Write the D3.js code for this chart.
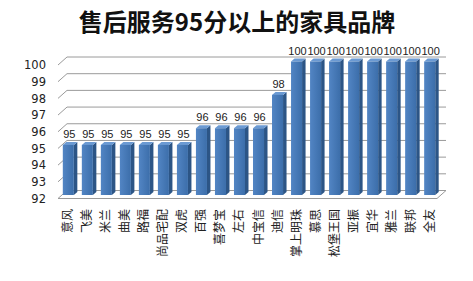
<!doctype html>
<html lang="zh">
<head>
<meta charset="UTF-8">
<title>售后服务95分以上的家具品牌</title>
<script src="https://d3js.org/d3.v7.min.js"></script>
<style>
  body { margin: 0; background: #fff; }
  svg { display: block; }
</style>
</head>
<body>
<div id="chart"></div>
<script>
var brands = ['意风', '飞美', '米兰', '曲美', '路福', '尚品宅配', '双虎', '百强', '喜梦宝', '左右',
    '中宝信', '迪信', '掌上明珠', '慕思', '松堡王国', '亚振', '宜华', '雅兰', '联邦', '全友'];
var scores = [95, 95, 95, 95, 95, 95, 95, 96, 96, 96, 96, 98, 100, 100, 100, 100, 100, 100, 100, 100];
var yTicks = [92, 93, 94, 95, 96, 97, 98, 99, 100];

var width = 473, height = 281;
var planeLeft = 62, planeRight = 441;
var back = [5, -4.5], front = [-4, 3.5];   // depth offsets from the bar plane
var dx = 3.5, dy = -3;                       // bar depth

var svg = d3.select('#chart').append('svg')
    .attr('width', width)
    .attr('height', height);

var defs = svg.append('defs');
var grad = defs.append('linearGradient').attr('id', 'barFront')
    .attr('x1', '0').attr('x2', '1').attr('y1', '0').attr('y2', '0');
grad.append('stop').attr('offset', '0%').attr('stop-color', '#5285c4');
grad.append('stop').attr('offset', '100%').attr('stop-color', '#3c6eaa');

svg.append('text')
    .attr('x', 237)
    .attr('y', 31)
    .attr('text-anchor', 'middle')
    .attr('font-family', '"Noto Sans CJK SC", sans-serif')
    .attr('font-weight', 'bold')
    .attr('font-size', '24px')
    .attr('fill', '#111')
    .text('售后服务95分以上的家具品牌');

var x = d3.scaleBand()
    .domain(brands)
    .range([planeLeft - 3, planeRight - 2])
    .paddingInner(0.42)
    .paddingOuter(0.2);

var y = d3.scaleLinear()
    .domain([92, 100])
    .range([195, 61.5]);

// grid: back wall lines + left diagonals
var grid = svg.append('g').attr('stroke', '#9a9a9a').attr('stroke-width', 1).attr('fill', 'none');
yTicks.forEach(function (t) {
    var yy = y(t);
    grid.append('line')
        .attr('x1', planeLeft + back[0]).attr('y1', yy + back[1])
        .attr('x2', planeRight + back[0]).attr('y2', yy + back[1]);
    grid.append('line')
        .attr('x1', planeLeft + front[0]).attr('y1', yy + front[1])
        .attr('x2', planeLeft + back[0]).attr('y2', yy + back[1]);
});
// floor outline
var y0 = y(92);
grid.append('path')
    .attr('d', 'M' + (planeLeft + front[0]) + ',' + (y0 + front[1]) +
        'L' + (planeRight + front[0]) + ',' + (y0 + front[1]) +
        'L' + (planeRight + back[0]) + ',' + (y0 + back[1]));

// y axis labels
svg.append('g')
    .attr('transform', 'translate(' + (planeLeft + front[0] - 12) + ',' + front[1] + ')')
    .call(d3.axisLeft(y).tickValues(yTicks).tickSize(0).tickPadding(0))
    .call(function (g) { g.select('.domain').remove(); })
    .selectAll('text')
    .attr('font-family', '"DejaVu Sans", sans-serif')
    .attr('font-size', '11.5px')
    .attr('fill', '#222');

// bars
var bars = svg.append('g').selectAll('g')
    .data(scores)
    .enter()
    .append('g');

var bw = x.bandwidth();
bars.append('path')
    .attr('fill', '#2c5586')
    .attr('d', function (d, i) {
        var x0 = x(brands[i]) + bw, top = y(d), base = y(92);
        return 'M' + x0 + ',' + top + 'L' + (x0 + dx) + ',' + (top + dy) +
            'L' + (x0 + dx) + ',' + (base + dy) + 'L' + x0 + ',' + base + 'Z';
    });
bars.append('path')
    .attr('fill', '#6b9ad3')
    .attr('d', function (d, i) {
        var x0 = x(brands[i]), top = y(d);
        return 'M' + x0 + ',' + top + 'L' + (x0 + dx) + ',' + (top + dy) +
            'L' + (x0 + bw + dx) + ',' + (top + dy) + 'L' + (x0 + bw) + ',' + top + 'Z';
    });
bars.append('rect')
    .attr('fill', 'url(#barFront)')
    .attr('x', function (d, i) { return x(brands[i]); })
    .attr('y', function (d) { return y(d); })
    .attr('width', bw)
    .attr('height', function (d) { return y(92) - y(d); });

// value labels
bars.append('text')
    .attr('x', function (d, i) { return x(brands[i]) + bw / 2 + 1; })
    .attr('y', function (d) { return y(d) - 7; })
    .attr('text-anchor', 'middle')
    .attr('font-family', '"Liberation Sans", sans-serif')
    .attr('font-size', '11px')
    .attr('fill', '#222')
    .text(function (d) { return d; });

// category labels, rotated
svg.append('g').selectAll('text')
    .data(brands)
    .enter()
    .append('text')
    .attr('transform', function (d) {
        return 'translate(' + (x(d) + bw / 2 + 4) + ',209) rotate(-90)';
    })
    .attr('text-anchor', 'end')
    .attr('font-family', '"Noto Sans CJK SC", sans-serif')
    .attr('font-size', '12px')
    .attr('fill', '#222')
    .text(function (d) { return d; });
</script>
</body>
</html>
